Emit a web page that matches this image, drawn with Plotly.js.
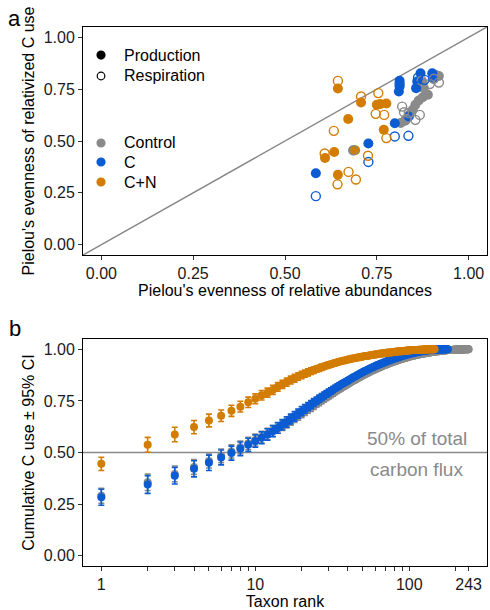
<!DOCTYPE html>
<html>
<head>
<meta charset="utf-8">
<script src="https://cdn.plot.ly/plotly-3.0.1.min.js"></script>
<style>html,body{margin:0;padding:0;background:#fff;}#chart{width:490px;height:610px;}</style>
</head>
<body>
<div id="chart"></div>
<script>
// ---------- Panel a: Pielou's evenness ----------
const ctrlProdX = [0.815,0.827,0.839,0.848,0.855,0.864,0.875,0.889,0.878,0.875,0.910,0.919,0.686];
const ctrlProdY = [0.587,0.598,0.627,0.651,0.675,0.695,0.711,0.723,0.755,0.782,0.819,0.814,0.455];
const ctrlRespX = [0.819,0.824,0.837,0.830,0.855,0.867,0.919,0.894,0.872,0.686,0.905];
const ctrlRespY = [0.666,0.639,0.635,0.606,0.602,0.626,0.782,0.775,0.791,0.455,0.800];
const cProdX = [0.584,0.727,0.799,0.812,0.812,0.810,0.869,0.860,0.857,0.901,0.903,0.837];
const cProdY = [0.344,0.488,0.586,0.791,0.763,0.739,0.827,0.787,0.755,0.827,0.803,0.618];
const cRespX = [0.584,0.727,0.799,0.836,0.812,0.862,0.880];
const cRespY = [0.234,0.399,0.522,0.525,0.775,0.805,0.795];
const cnProdX = [0.644,0.707,0.750,0.759,0.776,0.672,0.769,0.634,0.609,0.691,0.644];
const cnProdY = [0.753,0.686,0.675,0.678,0.681,0.606,0.554,0.447,0.418,0.455,0.337];
const cnRespX = [0.644,0.707,0.754,0.747,0.770,0.633,0.776,0.608,0.726,0.673,0.693,0.643];
const cnRespY = [0.790,0.715,0.731,0.631,0.626,0.549,0.514,0.440,0.429,0.351,0.314,0.291];
const oneToOne = [-0.1, 1.1];
const tickA = [0, 0.25, 0.5, 0.75, 1];
const fluxLegend = ['Production', 'Respiration'];
const treatLegend = ['Control', 'C', 'C+N'];

// ---------- Panel b: cumulative C use by taxon rank ----------
const cumControl = [
0.290,0.356,0.396,0.430,0.459,0.484,0.505,0.525,0.543,0.560,
0.575,0.590,0.604,0.618,0.631,0.643,0.655,0.667,0.678,0.689,
0.699,0.709,0.718,0.727,0.736,0.744,0.752,0.760,0.767,0.774,
0.781,0.787,0.794,0.800,0.806,0.811,0.817,0.822,0.827,0.832,
0.837,0.841,0.846,0.850,0.854,0.858,0.862,0.866,0.870,0.873,
0.877,0.880,0.883,0.886,0.889,0.892,0.895,0.898,0.900,0.903,
0.905,0.908,0.910,0.912,0.914,0.917,0.919,0.921,0.923,0.925,
0.926,0.928,0.930,0.932,0.933,0.935,0.937,0.938,0.940,0.941,
0.943,0.944,0.945,0.947,0.948,0.949,0.950,0.952,0.953,0.954,
0.955,0.956,0.957,0.958,0.959,0.960,0.961,0.962,0.963,0.964,
0.965,0.966,0.967,0.967,0.968,0.969,0.970,0.970,0.971,0.972,
0.972,0.973,0.974,0.974,0.975,0.976,0.976,0.977,0.977,0.978,
0.978,0.979,0.979,0.980,0.980,0.981,0.981,0.982,0.982,0.983,
0.983,0.984,0.984,0.984,0.985,0.985,0.986,0.986,0.986,0.987,
0.987,0.987,0.988,0.988,0.988,0.989,0.989,0.989,0.990,0.990,
0.990,0.990,0.991,0.991,0.991,0.991,0.992,0.992,0.992,0.992,
0.993,0.993,0.993,0.993,0.993,0.994,0.994,0.994,0.994,0.994,
0.995,0.995,0.995,0.995,0.995,0.995,0.996,0.996,0.996,0.996,
0.996,0.996,0.996,0.997,0.997,0.997,0.997,0.997,0.997,0.997,
0.997,0.998,0.998,0.998,0.998,0.998,0.998,0.998,0.998,0.998,
0.998,0.998,0.999,0.999,0.999,0.999,0.999,0.999,0.999,0.999,
0.999,0.999,0.999,0.999,0.999,0.999,0.999,0.999,0.999,0.999,
0.999,0.999,0.999,1.000,1.000,1.000,1.000,1.000,1.000,1.000,
1.000,1.000,1.000,1.000,1.000,1.000,1.000,1.000,1.000,1.000,
1.000,1.000,1.000];
const cumC = [
0.283,0.345,0.387,0.421,0.450,0.476,0.497,0.518,0.537,0.555,
0.571,0.587,0.603,0.619,0.634,0.648,0.662,0.675,0.688,0.700,
0.711,0.722,0.732,0.742,0.751,0.760,0.768,0.776,0.784,0.791,
0.798,0.805,0.811,0.817,0.823,0.829,0.834,0.839,0.844,0.849,
0.854,0.858,0.863,0.867,0.871,0.875,0.879,0.883,0.886,0.890,
0.893,0.896,0.899,0.902,0.905,0.908,0.911,0.913,0.916,0.918,
0.921,0.923,0.925,0.927,0.929,0.931,0.933,0.935,0.937,0.939,
0.941,0.943,0.944,0.946,0.948,0.949,0.951,0.952,0.954,0.955,
0.957,0.958,0.959,0.961,0.962,0.963,0.964,0.966,0.967,0.968,
0.969,0.970,0.971,0.972,0.973,0.974,0.975,0.976,0.977,0.978,
0.979,0.980,0.980,0.981,0.982,0.983,0.983,0.984,0.985,0.985,
0.986,0.987,0.987,0.988,0.988,0.989,0.989,0.990,0.990,0.991,
0.991,0.992,0.992,0.992,0.993,0.993,0.993,0.994,0.994,0.994,
0.995,0.995,0.995,0.995,0.996,0.996,0.996,0.996,0.997,0.997,
0.997,0.997,0.997,0.998,0.998,0.998,0.998,0.998,0.998,0.998,
0.999,0.999,0.999,0.999,0.999,0.999,0.999,0.999,0.999,0.999,
0.999,1.000,1.000,1.000,1.000,1.000,1.000,1.000,1.000,1.000,
1.000,1.000,1.000,1.000,1.000,1.000,1.000,1.000];
const cumCN = [
0.445,0.537,0.587,0.623,0.655,0.678,0.702,0.722,0.743,0.760,
0.777,0.790,0.803,0.818,0.830,0.841,0.851,0.860,0.868,0.875,
0.882,0.888,0.894,0.899,0.904,0.908,0.913,0.917,0.921,0.925,
0.928,0.931,0.934,0.937,0.940,0.942,0.944,0.946,0.948,0.950,
0.952,0.954,0.955,0.957,0.958,0.960,0.961,0.962,0.964,0.965,
0.966,0.967,0.968,0.969,0.970,0.971,0.972,0.973,0.974,0.975,
0.976,0.976,0.977,0.978,0.979,0.979,0.980,0.981,0.981,0.982,
0.983,0.983,0.984,0.984,0.985,0.985,0.986,0.986,0.987,0.987,
0.988,0.988,0.989,0.989,0.989,0.990,0.990,0.991,0.991,0.991,
0.992,0.992,0.992,0.993,0.993,0.993,0.994,0.994,0.994,0.995,
0.995,0.995,0.995,0.996,0.996,0.996,0.996,0.996,0.997,0.997,
0.997,0.997,0.997,0.997,0.998,0.998,0.998,0.998,0.998,0.998,
0.998,0.998,0.999,0.999,0.999,0.999,0.999,0.999,0.999,0.999,
0.999,0.999,0.999,1.000,1.000,1.000,1.000,1.000,1.000,1.000,
1.000,1.000,1.000,1.000,1.000,1.000];
// 95% CI half-widths (only the first ranks are wider than the markers)
const ciControl = [0.036,0.040,0.038,0.036,0.034,0.033,0.032,0.031,0.030,0.029,
0.028,0.027,0.026,0.025,0.024,0.024,0.023,0.022,0.021,0.021,
0.020,0.019,0.019,0.018,0.017,0.017,0.016,0.016,0.015,0.015,
0.014,0.014,0.013,0.013,0.013,0.012,0.012,0.012,0.011,0.011];
const ciC = [0.039,0.043,0.040,0.039,0.037,0.036,0.034,0.033,0.032,0.030,
0.029,0.028,0.027,0.026,0.025,0.025,0.024,0.023,0.022,0.022,
0.021,0.020,0.020,0.019,0.018,0.018,0.017,0.017,0.016,0.016,
0.015,0.015,0.014,0.014,0.014,0.013,0.013,0.013,0.012,0.012];
const ciCN = [0.032,0.036,0.035,0.032,0.031,0.028,0.027,0.026,0.025,0.024,
0.023,0.022,0.022,0.021,0.020,0.020,0.019,0.019,0.018,0.018,
0.017,0.017,0.016,0.016,0.015,0.015,0.015,0.014,0.014,0.014,
0.013,0.013,0.013,0.012,0.012,0.012,0.011,0.011,0.011,0.011];
const rankTickVals = [1,2,3,4,5,6,7,8,9,10,20,30,40,50,60,70,80,90,100,200,243];
const rankTickText = ['1','','','','','','','','','10','','','','','','','','','100','','243'];
const halfLine = 0.5;
const halfLabelRank = 112;
const halfLabels = ['50% of total', 'carbon flux'];

const colCtrl = '#8a8a8a', colC = '#0b5bd3', colCN = '#d27c00';
const FONT = 'Liberation Sans, Arial, sans-serif';
const ranks = a => a.map((_, i) => i + 1);

const traces = [
  {x: oneToOne, y: oneToOne, mode: 'lines', line: {color: '#858585', width: 1.5}, showlegend: false, hoverinfo: 'skip', xaxis: 'x', yaxis: 'y'},
  {x: ctrlProdX, y: ctrlProdY, mode: 'markers', marker: {color: colCtrl, size: 10, symbol: 'circle'}, showlegend: false, xaxis: 'x', yaxis: 'y'},
  {x: cProdX, y: cProdY, mode: 'markers', marker: {color: colC, size: 10, symbol: 'circle'}, showlegend: false, xaxis: 'x', yaxis: 'y'},
  {x: cnProdX, y: cnProdY, mode: 'markers', marker: {color: colCN, size: 10, symbol: 'circle'}, showlegend: false, xaxis: 'x', yaxis: 'y'},
  {x: ctrlRespX, y: ctrlRespY, mode: 'markers', marker: {color: colCtrl, size: 9, symbol: 'circle-open', line: {width: 1.4}}, showlegend: false, xaxis: 'x', yaxis: 'y'},
  {x: cRespX, y: cRespY, mode: 'markers', marker: {color: colC, size: 9, symbol: 'circle-open', line: {width: 1.4}}, showlegend: false, xaxis: 'x', yaxis: 'y'},
  {x: cnRespX, y: cnRespY, mode: 'markers', marker: {color: colCN, size: 9, symbol: 'circle-open', line: {width: 1.4}}, showlegend: false, xaxis: 'x', yaxis: 'y'},
  // panel b
  {x: ranks(cumControl), y: cumControl, mode: 'markers', marker: {color: colCtrl, size: 8},
   error_y: {type: 'data', array: ciControl, visible: true, color: colCtrl, thickness: 1.6, width: 3},
   showlegend: false, xaxis: 'x2', yaxis: 'y2'},
  {x: ranks(cumC), y: cumC, mode: 'markers', marker: {color: colC, size: 8},
   error_y: {type: 'data', array: ciC, visible: true, color: colC, thickness: 1.6, width: 3},
   showlegend: false, xaxis: 'x2', yaxis: 'y2'},
  {x: ranks(cumCN), y: cumCN, mode: 'markers', marker: {color: colCN, size: 8},
   error_y: {type: 'data', array: ciCN, visible: true, color: colCN, thickness: 1.6, width: 3},
   showlegend: false, xaxis: 'x2', yaxis: 'y2'}
];

const axBase = {
  showgrid: false, zeroline: false, showline: true, mirror: true,
  linecolor: '#000', linewidth: 1, ticks: 'outside', ticklen: 4, tickwidth: 1, tickcolor: '#333',
  tickfont: {family: FONT, size: 16, color: '#1a1a1a'}
};

// inside legend of panel a (keys as pixel-sized circles, labels as text)
const legKeyX = 0.0446, legTextX = 0.0965;
const legRows = [
  {label: fluxLegend[0], y: 0.9480, fill: '#000', open: false},
  {label: fluxLegend[1], y: 0.9091, fill: '#000', open: true},
  {label: treatLegend[0], y: 0.7848, fill: colCtrl, open: false},
  {label: treatLegend[1], y: 0.7495, fill: colC, open: false},
  {label: treatLegend[2], y: 0.7124, fill: colCN, open: false}
];
const legShapes = legRows.map(r => ({
  type: 'circle', xref: 'paper', yref: 'paper', xsizemode: 'pixel', ysizemode: 'pixel',
  xanchor: legKeyX, yanchor: r.y,
  x0: r.open ? -3.8 : -4.6, x1: r.open ? 3.8 : 4.6, y0: r.open ? -3.8 : -4.6, y1: r.open ? 3.8 : 4.6,
  fillcolor: r.open ? 'rgba(0,0,0,0)' : r.fill,
  line: r.open ? {color: '#000', width: 1.2} : {width: 0}
}));
const legAnn = legRows.map(r => ({
  text: r.label, xref: 'paper', yref: 'paper', x: legTextX, y: r.y, xanchor: 'left', yanchor: 'middle',
  showarrow: false, font: {family: FONT, size: 16, color: '#000'}
}));

const layout = {
  width: 490, height: 610,
  margin: {l: 83, r: 3, t: 27, b: 44},
  paper_bgcolor: '#fff', plot_bgcolor: '#fff',
  font: {family: FONT, size: 16, color: '#000'},
  showlegend: false,
  xaxis: Object.assign({}, axBase, {domain: [0, 1], range: [-0.05, 1.05], tickvals: tickA, tickformat: '.2f', anchor: 'y',
    title: {text: "Pielou's evenness of relative abundances", font: {family: FONT, size: 16, color: '#000'}, standoff: 2}}),
  yaxis: Object.assign({}, axBase, {domain: [0.577, 1], range: [-0.05, 1.05], tickvals: tickA, tickformat: '.2f', anchor: 'x',
    title: {text: "Pielou's evenness of relativized C use", font: {family: FONT, size: 16, color: '#000'}, standoff: 5}}),
  xaxis2: Object.assign({}, axBase, {domain: [0, 1], type: 'log', range: [-0.119, 2.505], tickvals: rankTickVals, ticktext: rankTickText, anchor: 'y2',
    title: {text: 'Taxon rank', font: {family: FONT, size: 16, color: '#000'}, standoff: 2}}),
  yaxis2: Object.assign({}, axBase, {domain: [0, 0.4212], range: [-0.05, 1.05], tickvals: tickA, tickformat: '.2f', anchor: 'x2',
    title: {text: 'Cumulative C use \u00b1 95% CI', font: {family: FONT, size: 16, color: '#000'}, standoff: 5}}),
  shapes: [
    {type: 'line', xref: 'x2 domain', x0: 0, x1: 1, yref: 'y2', y0: halfLine, y1: halfLine, line: {color: '#8a8a8a', width: 1.5}, layer: 'below'}
  ].concat(legShapes),
  annotations: [
    {text: 'a', xref: 'paper', yref: 'paper', x: -0.170, y: 1.0150, xanchor: 'center', yanchor: 'middle', showarrow: false, font: {family: FONT, size: 22, color: '#000'}},
    {text: 'b', xref: 'paper', yref: 'paper', x: -0.168, y: 0.4400, xanchor: 'center', yanchor: 'middle', showarrow: false, font: {family: FONT, size: 22, color: '#000'}},
    {text: halfLabels[0], xref: 'x2', yref: 'y2', x: Math.log10(halfLabelRank), y: halfLine, xanchor: 'center', yanchor: 'bottom', yshift: 1, showarrow: false, font: {family: FONT, size: 19, color: '#8a8a8a'}},
    {text: halfLabels[1], xref: 'x2', yref: 'y2', x: Math.log10(halfLabelRank), y: halfLine, xanchor: 'center', yanchor: 'top', yshift: -5, showarrow: false, font: {family: FONT, size: 19, color: '#8a8a8a'}}
  ].concat(legAnn)
};

Plotly.newPlot('chart', traces, layout, {displayModeBar: false, staticPlot: true});
</script>
</body>
</html>
